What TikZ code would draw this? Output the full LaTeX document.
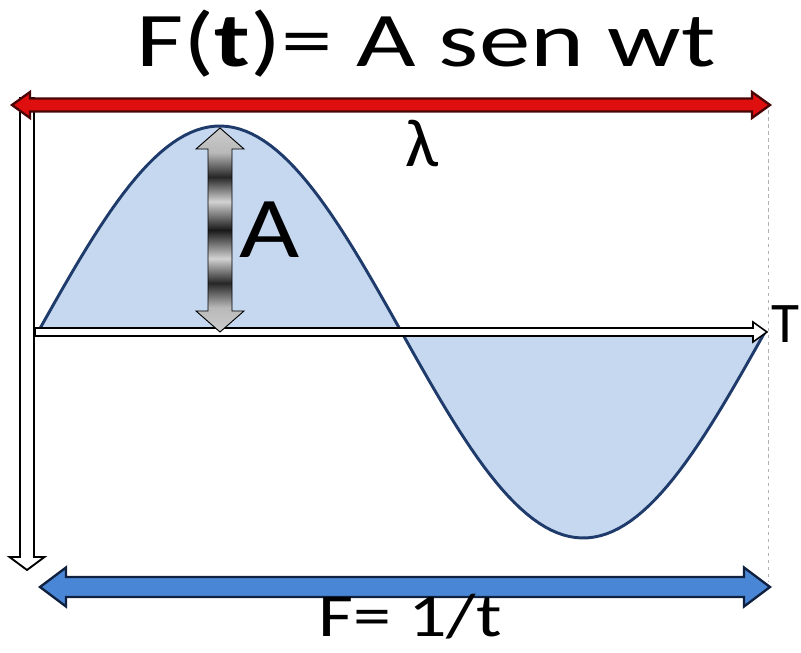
\documentclass[tikz,border=0pt]{standalone}
\usepackage{fontspec}
\setmainfont{Carlito}
\usetikzlibrary{calc}
\definecolor{wavefill}{HTML}{C5D8F0}
\definecolor{waveline}{HTML}{1F3B6B}
\definecolor{lambdared}{HTML}{E00F0F}
\definecolor{lambdaedge}{HTML}{4A0606}
\definecolor{freqblue}{HTML}{4A86D6}
\definecolor{freqedge}{HTML}{10213F}
\pgfdeclareverticalshading{ampshade}{100bp}{
	color(0bp)=(gray!40); color(25bp)=(gray!40); color(31bp)=(gray!55);
	color(37bp)=(black!85); color(43bp)=(gray!35); color(50bp)=(black!90);
	color(57bp)=(gray!35); color(63bp)=(black!85); color(69bp)=(gray!55);
	color(75bp)=(gray!40); color(100bp)=(gray!40)}
\tikzstyle{every node}=[inner sep=0pt]
\newcommand{\wide}[2]{\scalebox{#1}[1]{#2}}
% single block arrow: style, tail, length, shaft, head width, head length
\newcommand{\blockarrow}[6]{
	\draw[#1] (#2) ++(0,#4/2) -- ++(#3-#6,0) -- ++(0,#5/2-#4/2) -- ++(#6,-#5/2)
		-- ++(-#6,-#5/2) -- ++(0,#5/2-#4/2) -- ++(-#3+#6,0) -- cycle;
}
% double block arrow: style, tip, length, shaft, head width, head length
\newcommand{\dblarrow}[6]{
	\draw[#1] (#2) -- ++(#6,#5/2) -- ++(0,#4/2-#5/2) -- ++(#3-2*#6,0) -- ++(0,#5/2-#4/2)
		-- ++(#6,-#5/2) -- ++(-#6,-#5/2) -- ++(0,#5/2-#4/2) -- ++(-#3+2*#6,0)
		-- ++(0,#4/2-#5/2) -- cycle;
}

\begin{document}
\begin{tikzpicture}[x=0.03cm,y=-0.03cm]
	\tikzstyle{wave} = [fill=wavefill,draw=waveline,line width=2.5pt,line join=round]
	\tikzstyle{whitearrow} = [fill=white,draw=black,line width=1.3pt]
	\useasboundingbox (0,0) rectangle (801,653);
	\clip (0,0) rectangle (801,653);
	
	\coordinate (start) at (38,332);
	\coordinate (peak) at (220,128);
	\coordinate (lamtip) at (12,105);
	\coordinate (yaxis) at (27,98);
	\coordinate (xaxis) at (35,332);
	\coordinate (ftip) at (40,587);
	\coordinate (edgetop) at (768,110);
	\coordinate (edgebot) at (768,582);
	
	\draw[gray!60,dashed,line width=0.7pt] (edgetop) -- (edgebot);
	\draw[wave] (start) plot[domain=0:360,samples=120] ({38+2.0194*\x},{332-206*sin(\x)}) -- cycle;
	
	\blockarrow{whitearrow}{xaxis}{732}{8}{20}{14}
	\dblarrow{shading=ampshade,draw=black,line width=0.8pt,rotate around={-90:(peak)}}{peak}{204}{24}{48}{21}
	\blockarrow{whitearrow,line width=1.6pt,rotate around={-90:(yaxis)}}{yaxis}{472}{14}{35}{13}
	\dblarrow{fill=lambdared,draw=lambdaedge,line width=2pt}{lamtip}{758}{13}{26}{18}
	\dblarrow{fill=freqblue,draw=freqedge,line width=2pt}{ftip}{730}{20}{39}{26}
	
	\node[anchor=base] (title) at (426,67) {\fontsize{66}{70}\selectfont\wide{1.33}{F(\textbf{t})= A sen wt}};
	\node[anchor=base] (lambda) at (422,167) {\fontsize{58}{62}\selectfont\wide{1.05}{λ}};
	\node[anchor=base] (amp) at (270,258) {\fontsize{74}{78}\selectfont\wide{1.2}{A}};
	\node[anchor=base west] (per) at (771,343) {\fontsize{49}{53}\selectfont T};
	\node[anchor=base] (freq) at (410,636) {\fontsize{52}{56}\selectfont\wide{1.25}{F= 1/t}};
\end{tikzpicture}
\end{document}
